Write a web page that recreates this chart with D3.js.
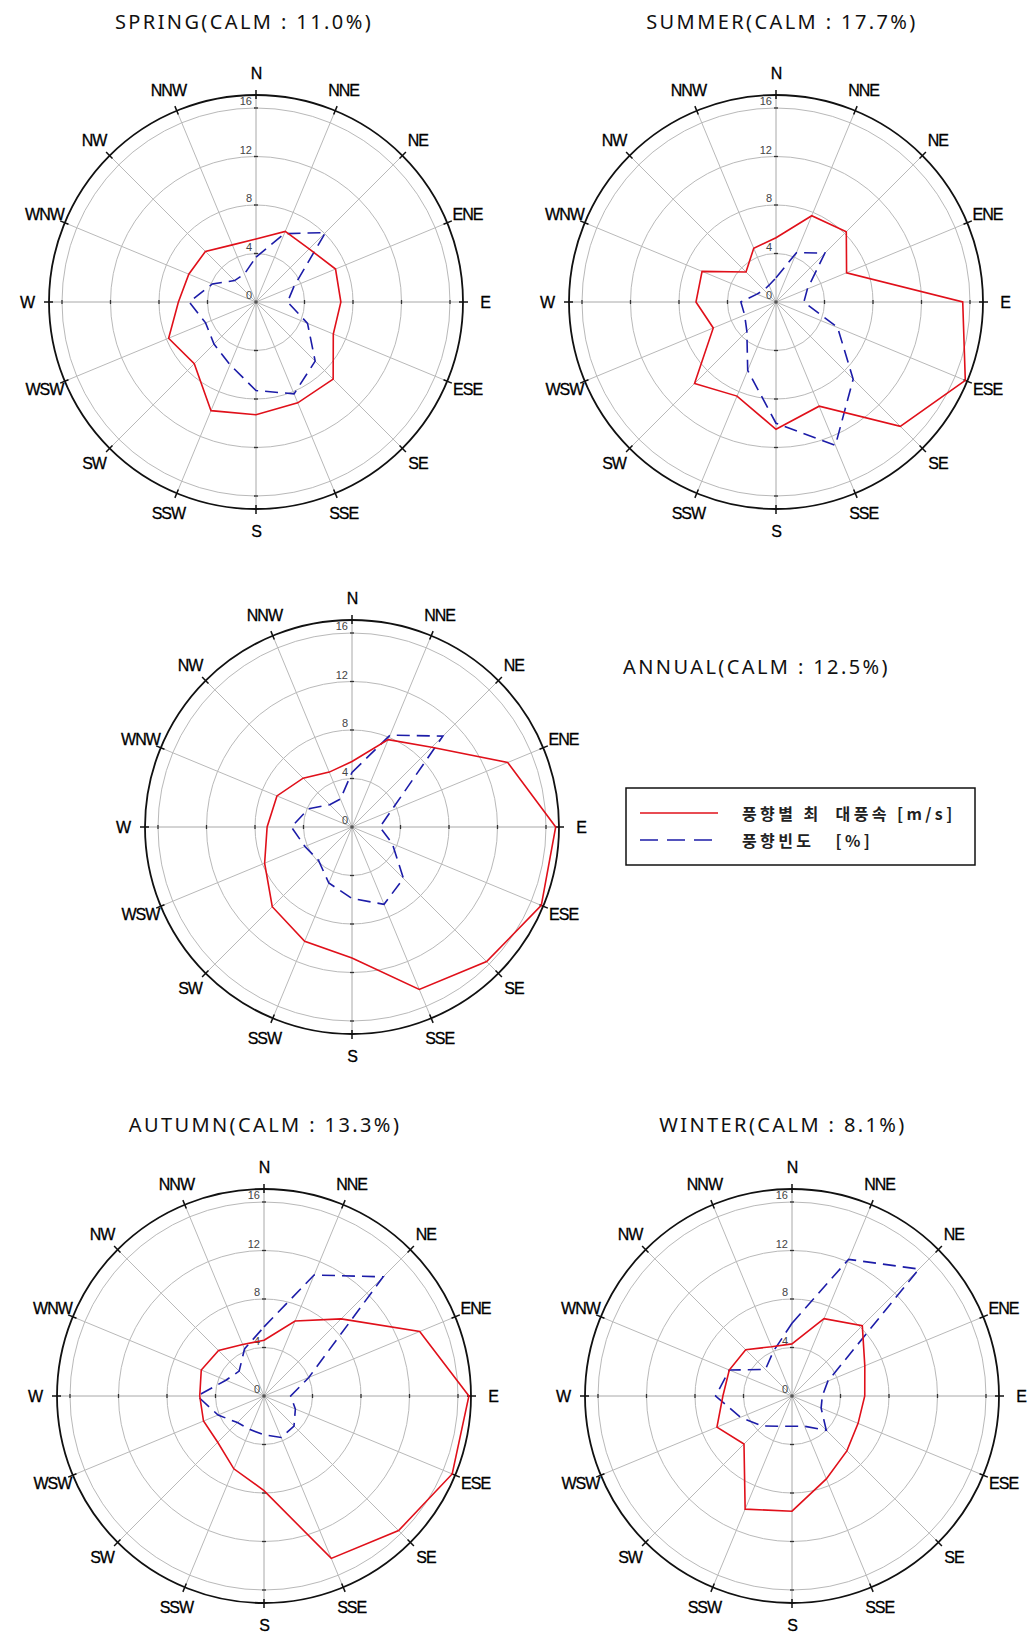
<!DOCTYPE html>
<html>
<head>
<meta charset="utf-8">
<script src="https://cdn.jsdelivr.net/npm/d3@7"></script>
<style>
body { margin: 0; background: #fff; }
svg { display: block; }
</style>
</head>
<body>
<script>
var w = 1028, h = 1634;

// 16 wind directions, clockwise from north
var directions = ["N", "NNE", "NE", "ENE", "E", "ESE", "SE", "SSE",
                  "S", "SSW", "SW", "WSW", "W", "WNW", "NW", "NNW"];
var radialTicks = [0, 4, 8, 12, 16];

// max wind speed by direction [m/s]  /  direction frequency [%]
var springSpeed = [5.2, 6.3, 6.2, 7.1, 7.0, 6.9, 9.0, 9.0, 9.3, 9.7, 7.2, 7.8, 6.4, 6.0, 5.9, 5.1];
var springFreq  = [3.7, 6.1, 8.1, 3.4, 2.6, 4.6, 6.9, 8.2, 7.3, 5.6, 4.9, 4.5, 5.5, 3.9, 2.5, 2.5];

var summerSpeed = [5.3, 7.7, 8.2, 6.3, 15.4, 16.9, 14.5, 9.3, 10.5, 8.4, 9.5, 5.6, 6.6, 6.6, 3.5, 4.8];
var summerFreq  = [2.0, 4.4, 5.7, 2.8, 2.3, 5.5, 9.0, 12.8, 10.0, 6.1, 3.4, 2.8, 2.9, 1.7, 1.4, 1.5];

var annualSpeed = [5.4, 7.8, 9.3, 13.9, 16.8, 16.9, 15.7, 14.5, 10.8, 10.2, 9.3, 7.8, 7.0, 6.7, 5.7, 4.9];
var annualFreq  = [4.5, 8.2, 10.6, 3.5, 2.3, 3.6, 6.0, 6.9, 5.9, 5.0, 3.9, 4.2, 5.0, 3.9, 2.6, 2.5];

var autumnSpeed = [4.6, 6.7, 9.0, 13.9, 16.9, 16.8, 15.7, 14.5, 7.8, 6.5, 5.4, 5.4, 5.3, 5.6, 5.3, 4.6];
var autumnFreq  = [5.7, 10.8, 13.9, 4.0, 2.2, 2.8, 3.5, 3.7, 3.2, 3.0, 3.1, 4.1, 5.5, 3.4, 2.9, 4.2];

var winterSpeed = [4.3, 6.9, 8.2, 6.5, 6.0, 5.9, 6.4, 7.4, 9.5, 10.1, 5.6, 6.7, 5.7, 5.6, 5.4, 4.4];
var winterFreq  = [6.0, 12.2, 14.8, 3.2, 2.5, 2.6, 4.0, 2.7, 2.5, 2.7, 3.5, 4.6, 6.3, 5.6, 3.1, 4.0];

var legendLabels = ["풍향별 최  대풍속 [m/s]", "풍향빈도   [%]"];

var panels = [
	{ title: "SPRING(CALM : 11.0%)", speed: springSpeed, freq: springFreq, cx: 256, cy: 302, tx: 244, ty: 29, anchor: "middle" },
	{ title: "SUMMER(CALM : 17.7%)", speed: summerSpeed, freq: summerFreq, cx: 776, cy: 302, tx: 782, ty: 29, anchor: "middle" },
	{ title: "ANNUAL(CALM : 12.5%)", speed: annualSpeed, freq: annualFreq, cx: 352, cy: 827, tx: 623, ty: 674, anchor: "start" },
	{ title: "AUTUMN(CALM : 13.3%)", speed: autumnSpeed, freq: autumnFreq, cx: 264, cy: 1396, tx: 265, ty: 1132, anchor: "middle" },
	{ title: "WINTER(CALM : 8.1%)", speed: winterSpeed, freq: winterFreq, cx: 792, cy: 1396, tx: 783, ty: 1132, anchor: "middle" }
];

var speedColor = "#e0101a";
var freqColor = "#1c1ca8";
var gridColor = "#b9b9b9";
var outerR = 207;

var rScale = d3.scaleLinear().domain([0, 16]).range([0, 194]);
var aScale = d3.scaleLinear().domain([0, directions.length]).range([0, 2 * Math.PI]);

var svg = d3.select("body")
			.append("svg")
			.attr("width", w)
			.attr("height", h);

svg.append("rect").attr("width", w).attr("height", h).attr("fill", "#fff");

function windRose(p) {

	var g = svg.append("g")
		.attr("transform", `translate(${p.cx}, ${p.cy})`);

	// grid rings
	g.selectAll("circle.ring")
		.data(radialTicks.filter(d => d > 0))
		.enter()
		.append("circle")
		.attr("class", "ring")
		.attr("r", d => rScale(d))
		.attr("fill", "none")
		.attr("stroke", gridColor)
		.attr("stroke-width", 1);

	// spokes
	g.selectAll("line.spoke")
		.data(directions)
		.enter()
		.append("line")
		.attr("class", "spoke")
		.attr("x1", 0).attr("y1", 0)
		.attr("x2", (d, i) => outerR * Math.sin(aScale(i)))
		.attr("y2", (d, i) => -outerR * Math.cos(aScale(i)))
		.attr("stroke", (d, i) => i % 4 == 0 ? "#a8a8a8" : gridColor)
		.attr("stroke-width", 1);

	// small ticks on the four main axes
	var axisTicks = [];
	[0, 4, 8, 12].forEach(i => {
		radialTicks.filter(d => d > 0).forEach(v => axisTicks.push({ i: i, v: v }));
	});
	g.selectAll("line.atick")
		.data(axisTicks)
		.enter()
		.append("line")
		.attr("class", "atick")
		.attr("x1", d => rScale(d.v) * Math.sin(aScale(d.i)) - 2 * Math.cos(aScale(d.i)))
		.attr("y1", d => -rScale(d.v) * Math.cos(aScale(d.i)) - 2 * Math.sin(aScale(d.i)))
		.attr("x2", d => rScale(d.v) * Math.sin(aScale(d.i)) + 2 * Math.cos(aScale(d.i)))
		.attr("y2", d => -rScale(d.v) * Math.cos(aScale(d.i)) + 2 * Math.sin(aScale(d.i)))
		.attr("stroke", "#333")
		.attr("stroke-width", 1.3);

	g.append("circle")
		.attr("r", 1.8)
		.attr("fill", "#555");

	// radial labels
	g.selectAll("text.rlab")
		.data(radialTicks)
		.enter()
		.append("text")
		.attr("class", "rlab")
		.attr("x", -4)
		.attr("y", d => -rScale(d) - 3)
		.attr("text-anchor", "end")
		.attr("font-family", "Liberation Sans, Arial, sans-serif")
		.attr("font-size", "11px")
		.attr("fill", "#444")
		.text(d => d);

	// outer frame
	g.append("circle")
		.attr("r", outerR)
		.attr("fill", "none")
		.attr("stroke", "#111")
		.attr("stroke-width", 1.8);

	g.selectAll("line.otick")
		.data(directions)
		.enter()
		.append("line")
		.attr("class", "otick")
		.attr("x1", (d, i) => (outerR - 4) * Math.sin(aScale(i)))
		.attr("y1", (d, i) => -(outerR - 4) * Math.cos(aScale(i)))
		.attr("x2", (d, i) => (outerR + 5) * Math.sin(aScale(i)))
		.attr("y2", (d, i) => -(outerR + 5) * Math.cos(aScale(i)))
		.attr("stroke", "#111")
		.attr("stroke-width", 1.5);

	g.selectAll("text.dir")
		.data(directions)
		.enter()
		.append("text")
		.attr("class", "dir")
		.attr("x", (d, i) => 229 * Math.sin(aScale(i)))
		.attr("y", (d, i) => -229 * Math.cos(aScale(i)))
		.attr("text-anchor", "middle")
		.attr("dominant-baseline", "central")
		.attr("font-family", "Liberation Sans, Arial, sans-serif")
		.attr("font-size", "16px")
		.attr("letter-spacing", "-1px")
		.attr("fill", "#000")
		.attr("stroke", "#000")
		.attr("stroke-width", 0.3)
		.text(d => d);

	var line = d3.lineRadial()
		.angle((d, i) => aScale(i))
		.radius(d => rScale(d))
		.curve(d3.curveLinearClosed);

	g.append("path")
		.datum(p.freq)
		.attr("d", line)
		.attr("fill", "none")
		.attr("stroke", freqColor)
		.attr("stroke-width", 1.6)
		.attr("stroke-dasharray", "13,7");

	g.append("path")
		.datum(p.speed)
		.attr("d", line)
		.attr("fill", "none")
		.attr("stroke", speedColor)
		.attr("stroke-width", 1.6);

	svg.append("text")
		.attr("x", p.tx)
		.attr("y", p.ty)
		.attr("text-anchor", p.anchor)
		.attr("font-family", "Noto Sans, Open Sans, sans-serif")
		.attr("font-size", "20px")
		.attr("letter-spacing", "2.4px")
		.attr("fill", "#111")
		.text(p.title);
}

panels.forEach(windRose);

// legend
var legend = svg.append("g").attr("transform", "translate(626, 788)");

legend.append("rect")
	.attr("width", 349)
	.attr("height", 77)
	.attr("fill", "#fff")
	.attr("stroke", "#111")
	.attr("stroke-width", 1.5);

legend.selectAll("line.key")
	.data(legendLabels)
	.enter()
	.append("line")
	.attr("class", "key")
	.attr("x1", 14).attr("x2", 92)
	.attr("y1", (d, i) => 25 + i * 27)
	.attr("y2", (d, i) => 25 + i * 27)
	.attr("stroke", (d, i) => i == 0 ? speedColor : freqColor)
	.attr("stroke-width", 1.6)
	.attr("stroke-dasharray", (d, i) => i == 0 ? null : "18,9");

legend.selectAll("text.key")
	.data(legendLabels)
	.enter()
	.append("text")
	.attr("class", "key")
	.attr("x", 116)
	.attr("y", (d, i) => 25 + i * 27)
	.attr("dominant-baseline", "central")
	.attr("font-family", "Noto Sans CJK KR, sans-serif")
	.attr("font-size", "16px")
	.attr("font-weight", "bold")
	.attr("letter-spacing", "3.4px")
	.attr("fill", "#222")
	.style("white-space", "pre")
	.text(d => d);
</script>
</body>
</html>
